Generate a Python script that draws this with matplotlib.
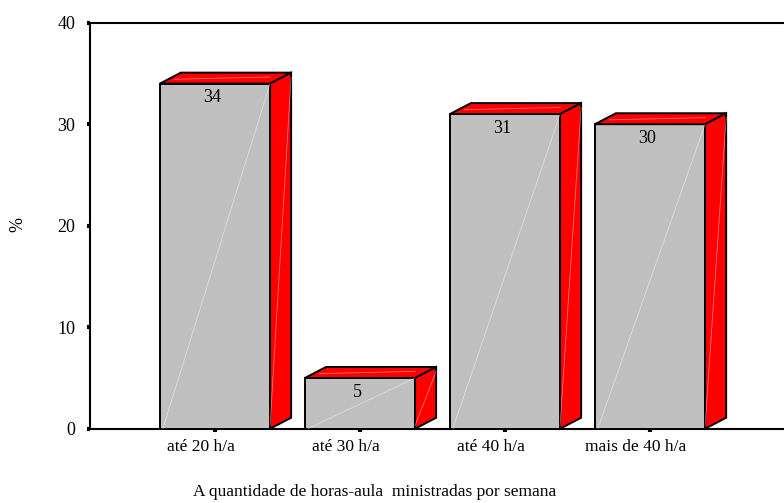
import matplotlib.pyplot as plt
from matplotlib.patches import Polygon
from matplotlib.transforms import ScaledTranslation

categorias = ["até 20 h/a", "até 30 h/a", "até 40 h/a", "mais de 40 h/a"]
percentuais = [34, 5, 31, 30]

plt.rcParams['font.family'] = ['Liberation Serif', 'DejaVu Serif']

fig = plt.figure(figsize=(7.84, 5.03), dpi=100)
ax = fig.add_axes([90 / 784, (503 - 428.7) / 503, 694 / 784, 406 / 503])

largura = 0.76
prof_x = 0.145   # deslocamento da face lateral (unidades de x)
prof_y = 1.08    # deslocamento da face superior (unidades de %)
cinza = "#c0c0c0"
vermelho = "#ff0000"

for i, v in enumerate(percentuais):
    x0 = i - largura / 2
    x1 = i + largura / 2
    # face frontal
    ax.add_patch(Polygon([(x0, 0), (x1, 0), (x1, v), (x0, v)], closed=True,
                         facecolor=cinza, edgecolor="black", lw=1.4, zorder=3,
                         clip_on=False))
    # face superior
    ax.add_patch(Polygon([(x0, v), (x1, v), (x1 + prof_x, v + prof_y),
                          (x0 + prof_x, v + prof_y)], closed=True,
                         facecolor=vermelho, edgecolor="black", lw=1.4, zorder=3,
                         clip_on=False))
    # face lateral
    ax.add_patch(Polygon([(x1, 0), (x1 + prof_x, prof_y), (x1 + prof_x, v + prof_y),
                          (x1, v)], closed=True,
                         facecolor=vermelho, edgecolor="black", lw=1.4, zorder=3,
                         clip_on=False))
    # reflexos suaves
    ax.plot([x0 + 0.02, x1], [0, v], color="white", lw=0.6, alpha=0.45, zorder=4)
    ax.plot([x1, x1 + prof_x], [prof_y * 0.3, v + prof_y * 0.6], color="white",
            lw=0.6, alpha=0.45, zorder=4)
    ax.plot([x0 + 0.1, x1], [v + prof_y * 0.4, v + prof_y * 0.6], color="white",
            lw=0.6, alpha=0.45, zorder=4)
    ax.text(i - 0.02, v - 1.4, str(v), ha="center", va="center", fontsize=13, zorder=5)

ax.set_xlim(-0.862, 3.924)
ax.set_ylim(0, 40)
ax.set_yticks([0, 10, 20, 30, 40])
ax.set_xticks(range(len(categorias)))
ax.set_xticklabels(categorias)

for lado in ["left", "top", "bottom"]:
    ax.spines[lado].set_linewidth(1.5)
ax.spines["right"].set_visible(False)

ax.tick_params(axis="y", direction="out", length=2.5, width=3, pad=8, labelsize=13)
ax.tick_params(axis="x", direction="out", length=2.5, width=3, pad=5, labelsize=12.5)

# rótulos das categorias ficam um pouco à esquerda do centro da barra
desloc = ScaledTranslation(-0.14, 0, fig.dpi_scale_trans)
for rot in ax.get_xticklabels():
    rot.set_transform(rot.get_transform() + desloc)

fig.text(18 / 784, 1 - 225 / 503, "%", rotation=90, ha="center", va="center",
         fontsize=13)
fig.text(375 / 784, 1 - 492 / 503, "A quantidade de horas-aula  ministradas por semana",
         ha="center", va="center", fontsize=12.5)

fig.savefig("out.png", dpi=100)
